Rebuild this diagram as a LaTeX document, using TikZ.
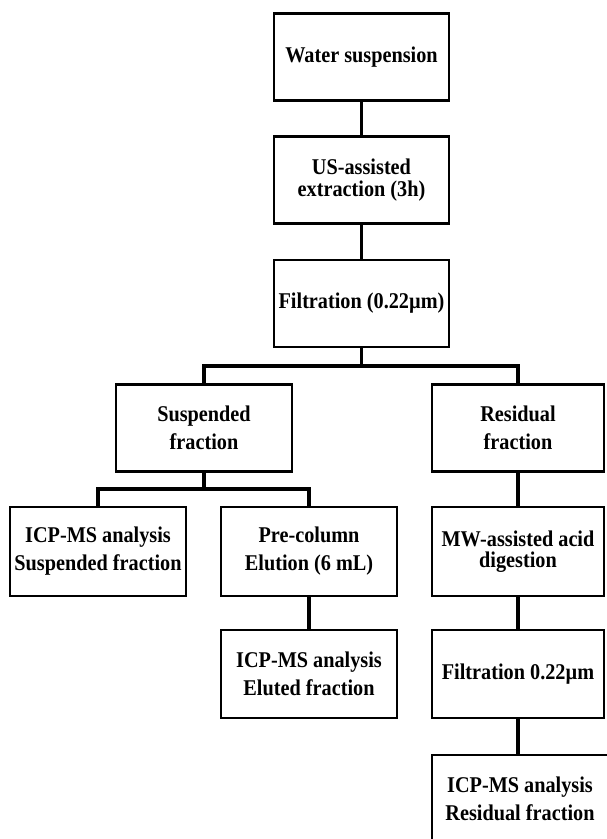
\documentclass[tikz,border=0pt]{standalone}
\usepackage{fontspec}
\setmainfont{Liberation Serif}[FakeStretch=0.9]
\begin{document}
\begin{tikzpicture}[x=1pt,y=-1pt,
  box/.style={draw=black,line width=2.8pt,fill=white,minimum width=175pt,minimum height=87pt,
    inner sep=0pt,align=center,font=\bfseries\fontsize{22.5}{28}\selectfont},
  tight/.style={font=\bfseries\fontsize{22.5}{21.5}\selectfont},
  conn/.style={draw=black,line width=3.2pt}]
\useasboundingbox (0,0) rectangle (606,839);
\fill[white] (0,0) rectangle (606,839);
\node[box] (ws) at (361.5,57) {Water suspension};
\node[box,tight] (us) at (361.5,180) {US-assisted\\extraction (3h)};
\node[box] (filt) at (361.5,303.5) {Filtration (0.22µm)};
\node[box,minimum width=176pt] (susp) at (204,428) {Suspended\\fraction};
\node[box,minimum width=172pt] (resid) at (518,428) {Residual\\fraction};
\node[box,minimum width=176pt,minimum height=89pt] (icp1) at (98,551.5) {ICP-MS analysis\\Suspended fraction};
\node[box,minimum width=176pt,minimum height=89pt] (pre) at (309,551.5) {Pre-column\\Elution (6 mL)};
\node[box,tight,minimum width=172pt,minimum height=89pt] (mw) at (518,551.5) {MW-assisted acid\\digestion};
\node[box,minimum width=176pt,minimum height=88pt] (icp2) at (309,674) {ICP-MS analysis\\Eluted fraction};
\node[box,minimum width=172pt,minimum height=88pt] (filt2) at (518,674) {Filtration 0.22µm};
\node[box,minimum width=176pt,minimum height=88pt] (icp3) at (520,799) {ICP-MS analysis\\Residual fraction};
\coordinate (b1) at (361.5,366);
\coordinate (b2) at (204,489);
\draw[conn] (ws.south) -- (us.north);
\draw[conn] (us.south) -- (filt.north);
\draw[conn] (filt.south) -- (b1);
\draw[conn] (susp.north) |- (b1) -| (resid.north);
\draw[conn] (susp.south) -- (b2);
\draw[conn] (icp1.north) |- (b2) -| (pre.north);
\draw[conn] (pre.south) -- (icp2.north);
\draw[conn] (resid.south) -- (mw.north);
\draw[conn] (mw.south) -- (filt2.north);
\draw[conn] (filt2.south) -- (filt2.south |- icp3.north);
\end{tikzpicture}
\end{document}
